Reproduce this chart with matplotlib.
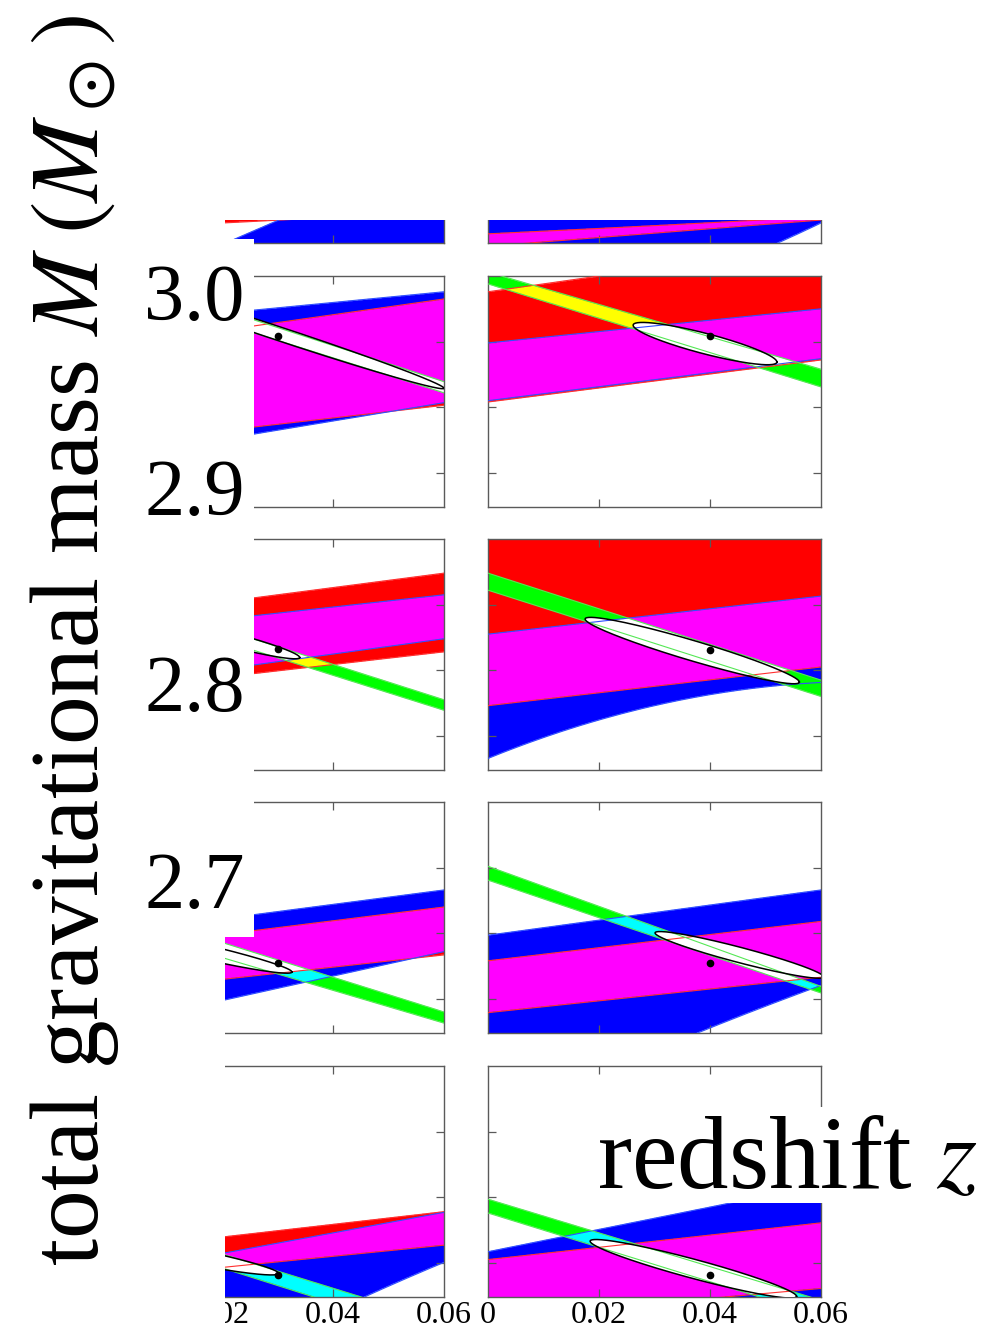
import numpy as np
import matplotlib
matplotlib.use("Agg")
import matplotlib.pyplot as plt
from matplotlib.patches import Rectangle

plt.rcParams['font.family'] = ['Liberation Serif', 'DejaVu Serif']
plt.rcParams['mathtext.fontset'] = 'stix'

W, H = 990, 1329

Z_NODES = [0.0, 0.02, 0.04, 0.06]
# y in tick units (ticks at 0, 1, 2)
YLIM = (-0.52, 3.0)

# panel order: row 0..4, left panel then right panel
RED_LO = [
    [-0.30, -0.215, -0.13, -0.04], [-0.57, -0.437, -0.303, -0.17],
    [0.45, 0.643, 0.837, 1.03], [1.08, 1.293, 1.507, 1.72],
    [0.70, 0.893, 1.087, 1.28], [0.46, 0.657, 0.853, 1.05],
    [0.11, 0.297, 0.483, 0.67], [-0.21, -0.03, 0.15, 0.33],
    [-0.24, -0.07, 0.10, 0.27], [-0.84, -0.69, -0.54, -0.39],
]
RED_HI = [
    [5, 5, 5, 5], [-0.38, -0.30, -0.21, -0.12],
    [1.93, 2.17, 2.41, 2.65], [2.76, 3.00, 3.24, 3.48],
    [1.82, 2.04, 2.26, 2.48], [5, 5, 5, 5],
    [0.77, 0.98, 1.19, 1.40], [0.58, 0.78, 0.98, 1.18],
    [0.20, 0.393, 0.587, 0.78], [0.05, 0.237, 0.423, 0.61],
]
BLUE_LO = [
    [-3, -3, -3, -3], [-2.0, -1.5, -1.0, -0.2],
    [0.23, 0.51, 0.79, 1.07], [1.10, 1.313, 1.527, 1.74],
    [0.78, 1.013, 1.247, 1.48], [-0.36, 0.29, 0.58, 0.83],
    [-0.40, -0.027, 0.347, 0.72], [-1.9, -1.16, -0.43, 0.20],
    [-2.5, -1.6, -0.72, 0.00], [-2, -2, -2, -2],
]
BLUE_HI = [
    [-1.28, -0.56, 0.20, 0.90], [5, 5, 5, 5],
    [2.27, 2.433, 2.597, 2.76], [1.98, 2.153, 2.327, 2.50],
    [1.59, 1.777, 1.963, 2.15], [1.55, 1.743, 1.937, 2.13],
    [1.00, 1.22, 1.44, 1.66], [0.97, 1.20, 1.43, 1.66],
    [-0.17, 0.143, 0.457, 0.77], [0.17, 0.51, 0.85, 1.19],
]
GREEN_LO = [
    None, None,
    [2.82, 2.287, 1.753, 1.22], [2.88, 2.357, 1.833, 1.31],
    [1.99, 1.457, 0.923, 0.39], [2.22, 1.68, 1.14, 0.60],
    [1.13, 0.63, 0.13, -0.37], [1.81, 1.237, 0.663, 0.09],
    [0.46, -0.077, -0.613, -1.15], [0.76, 0.237, -0.287, -0.81],
]
GREEN_HI = [
    None, None,
    [3.04, 2.49, 1.94, 1.39], [3.06, 2.567, 2.073, 1.58],
    [2.17, 1.63, 1.09, 0.55], [2.48, 1.937, 1.393, 0.85],
    [1.39, 0.86, 0.33, -0.20], [2.02, 1.41, 0.80, 0.19],
    [0.66, 0.137, -0.387, -0.91], [0.97, 0.457, -0.057, -0.57],
]
# panels where the green band is painted over a single band
GREEN_OVER = [False, False, False, False, False, True,
              False, False, False, False]
# confidence ellipse: centre, major half-axis vector, minor half-axis vector
ELL_CENTER = [None, None, (0.031, 2.10), (0.0391, 1.97), (0.021, 1.48),
              (0.0368, 1.30), (0.015, 0.75), (0.0453, 0.67), (0.014, 0.11),
              (0.037, -0.09)]
ELL_MAJOR = [None, None, (0.029, -0.81), (0.01295, -0.28), (0.013, -0.285),
             (0.0193, -0.48), (0.0176, -0.34), (0.0152, -0.335),
             (0.0162, -0.27), (0.0186, -0.42)]
ELL_MINOR = [None, None, (0, 0.11), (0, 0.16), (0, 0.11), (0, 0.16),
             (0, 0.115), (0, 0.12), (0, 0.116), (0, 0.15)]
DOTS = [None, None, (0.03, 2.09), (0.04, 2.09), (0.03, 1.32), (0.04, 1.31),
        (0.03, 0.54), (0.04, 0.54), (0.03, -0.18), (0.04, -0.18)]

X_TICKS = [0.02, 0.04]
Y_TICKS = [0, 1, 2]
X_LABELS_LEFT = ['0.02', '0.04', '0.06']
X_LABELS_RIGHT = ['0', '0.02', '0.04', '0.06']
M_LABELS = ['3.0', '2.9', '2.8', '2.7']

# layout in pixels
COL_X = [111, 488]
COL_W = 333
ROW_BOTTOM = [243, 507, 770, 1033, 1297]
ROW_H = 231
FRAME = '#5a5a5a'


def fx(px):
    return px / W


def fy(py):
    return 1 - py / H


def white_box(fig, x0, y0, x1, y1):
    fig.add_artist(Rectangle((fx(x0), fy(y1)), fx(x1 - x0), (y1 - y0) / H,
                             transform=fig.transFigure, facecolor='white',
                             edgecolor='none', zorder=1))


def edge(vals, zz):
    # smooth curve through the read-off nodes
    return np.polyval(np.polyfit(Z_NODES, vals, 2), zz)


def draw_panel(ax, i):
    zz = np.linspace(0, 0.06, 700)
    yy = np.linspace(YLIM[0], YLIM[1], 500)
    Y = yy[:, None]

    def inside(lo, hi):
        if lo is None:
            return np.zeros((len(yy), len(zz)), bool)
        return (Y >= edge(lo, zz)[None, :]) & (Y <= edge(hi, zz)[None, :])

    r = inside(RED_LO[i], RED_HI[i])
    g = inside(GREEN_LO[i], GREEN_HI[i])
    b = inside(BLUE_LO[i], BLUE_HI[i])
    img = np.dstack([r, g, b]).astype(float)
    img[~(r | g | b)] = 1.0
    if GREEN_OVER[i]:
        img[g & ~(r & b)] = (0, 1, 0)
    ax.imshow(img, extent=[0, 0.06, YLIM[0], YLIM[1]], origin='lower',
              aspect='auto', interpolation='bilinear', zorder=0)

    if ELL_CENTER[i] is not None:
        t = np.linspace(0, 2 * np.pi, 300)
        (cz, cy), (az, ay), (bz, by) = ELL_CENTER[i], ELL_MAJOR[i], ELL_MINOR[i]
        ez = cz + np.cos(t) * az + np.sin(t) * bz
        ey = cy + np.cos(t) * ay + np.sin(t) * by
        ax.fill(ez, ey, color='white', zorder=3, lw=0)

    for lo, hi, col in [(RED_LO[i], RED_HI[i], '#ff3030'),
                        (BLUE_LO[i], BLUE_HI[i], '#3050ff'),
                        (GREEN_LO[i], GREEN_HI[i], '#55e855')]:
        if lo is None:
            continue
        ax.plot(zz, edge(lo, zz), color=col, lw=0.8, zorder=4)
        ax.plot(zz, edge(hi, zz), color=col, lw=0.8, zorder=4)

    if ELL_CENTER[i] is not None:
        ax.plot(ez, ey, color='black', lw=1.1, zorder=5)
    if DOTS[i] is not None:
        ax.plot(*DOTS[i], 'o', color='black', ms=4.5, zorder=6)

    ax.set_xlim(0, 0.06)
    ax.set_ylim(*YLIM)
    ax.set_xticks(X_TICKS)
    ax.set_yticks(Y_TICKS)
    ax.tick_params(direction='in', length=6, width=0.9, color=FRAME,
                   top=True, right=True, labelleft=False, labelbottom=False)
    for s in ax.spines.values():
        s.set_color(FRAME)
        s.set_linewidth(1.0)


fig = plt.figure(figsize=(W / 100, H / 100), dpi=100)

for row in range(5):
    for col in range(2):
        i = row * 2 + col
        ax = fig.add_axes([fx(COL_X[col]), fy(ROW_BOTTOM[row]),
                           fx(COL_W), ROW_H / H])
        draw_panel(ax, i)
        if row == 4:
            labels = X_LABELS_LEFT if col == 0 else X_LABELS_RIGHT
            for lab in labels:
                ax.text(float(lab), -0.114, lab,
                        transform=ax.get_xaxis_transform(),
                        ha='center', va='baseline', fontsize=23,
                        clip_on=False)

# pasted-over white areas of the collage
white_box(fig, 0, 0, W, 220)
white_box(fig, 0, 0, 225, H)
white_box(fig, 0, 239, 254, 937)
white_box(fig, 590, 1107, W, 1203)

fig.text(fx(75), fy(640), r'total gravitational mass $M\;(M_\odot)$',
         rotation=90, ha='center', va='center', fontsize=70, zorder=3)

for lab, base in zip(M_LABELS, [320, 515, 711, 908]):
    fig.text(fx(245), fy(base), lab, ha='right', va='baseline',
             fontsize=58, zorder=3)

fig.text(fx(597), fy(1188), r'redshift $z$', ha='left', va='baseline',
         fontsize=74, zorder=3)

fig.savefig('out.png', dpi=100, facecolor='white')
